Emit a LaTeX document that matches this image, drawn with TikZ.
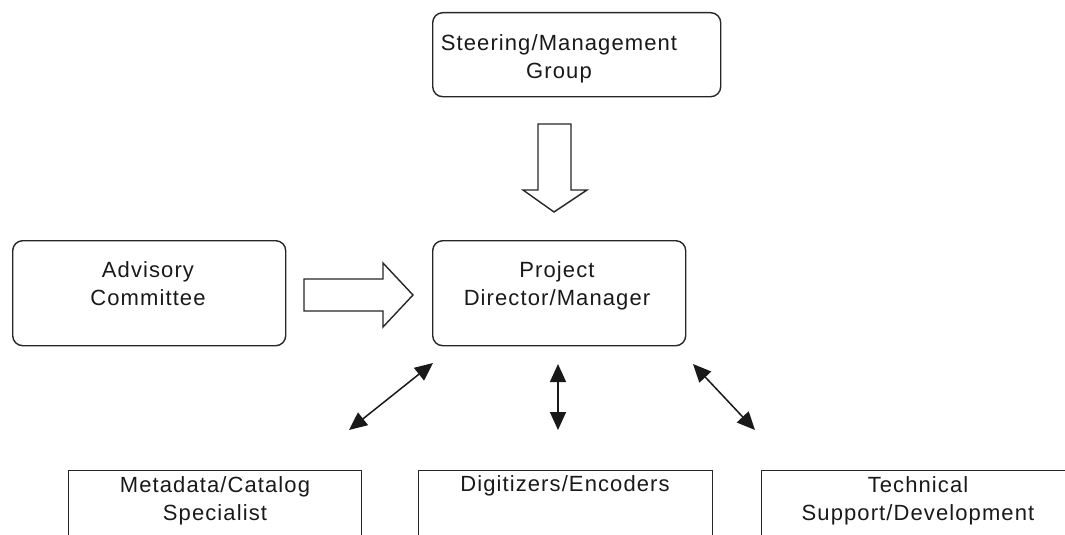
\documentclass[tikz,border=0pt]{standalone}
\usepackage{fontspec}
\setmainfont{Liberation Sans}[LetterSpace=5]
\usetikzlibrary{arrows.meta}
\begin{document}
\begin{tikzpicture}[x=1pt,y=-1pt,
  box/.style={draw=black!85, line width=1.4pt, anchor=north west, inner sep=0pt},
  rbox/.style={box, rounded corners=10pt},
  lbl/.style={anchor=north, inner sep=0pt, align=center, font=\fontsize{22}{28}\selectfont, text=black!90},
  hollow/.style={draw=black!85, line width=1.4pt, fill=white, line join=miter},
  dbl/.style={draw=black!90, line width=1.5pt, {Triangle[length=18pt,width=16pt]}-{Triangle[length=18pt,width=16pt]}}
]
\useasboundingbox (0,0) rectangle (1065,535);
\clip (0,0) rectangle (1065,535);

% boxes
\node[rbox, minimum width=288pt, minimum height=84pt] (steer) at (432,12) {};
\node[rbox, minimum width=273pt, minimum height=105pt] (adv) at (12,240) {};
\node[rbox, minimum width=253pt, minimum height=105pt] (proj) at (432,240) {};
\node[box, minimum width=293pt, minimum height=100pt] (meta) at (68,470) {};
\node[box, minimum width=294pt, minimum height=100pt] (digi) at (418,470) {};
\node[box, minimum width=315pt, minimum height=100pt] (tech) at (761,470) {};

% labels
\node[lbl] (steertxt) at (559,34) {Steering/Management\\Group};
\node[lbl] (advtxt) at (148,261) {Advisory\\Committee};
\node[lbl] (projtxt) at (557,261) {Project\\Director/Manager};
\node[lbl] (metatxt) at (215,476) {Metadata/Catalog\\Specialist};
\node[lbl] (digitxt) at (565,475) {Digitizers/Encoders};
\node[lbl] (techtxt) at (918,476) {Technical\\Support/Development};

% hollow arrows
\draw[hollow] (538,124) -- (571,124) -- (571,190) -- (587,190) -- (554,212) -- (523,190) -- (538,190) -- cycle;
\draw[hollow] (304,279) -- (383,279) -- (383,263) -- (413,295) -- (383,327) -- (383,311) -- (304,311) -- cycle;

% double arrows
\coordinate (a1) at (349,430); \coordinate (b1) at (433,363);
\coordinate (a2) at (558,364); \coordinate (b2) at (558,430);
\coordinate (a3) at (693,364); \coordinate (b3) at (755,430);
\draw[dbl] (a1) -- (b1);
\draw[dbl] (a2) -- (b2);
\draw[dbl] (a3) -- (b3);
\end{tikzpicture}
\end{document}
